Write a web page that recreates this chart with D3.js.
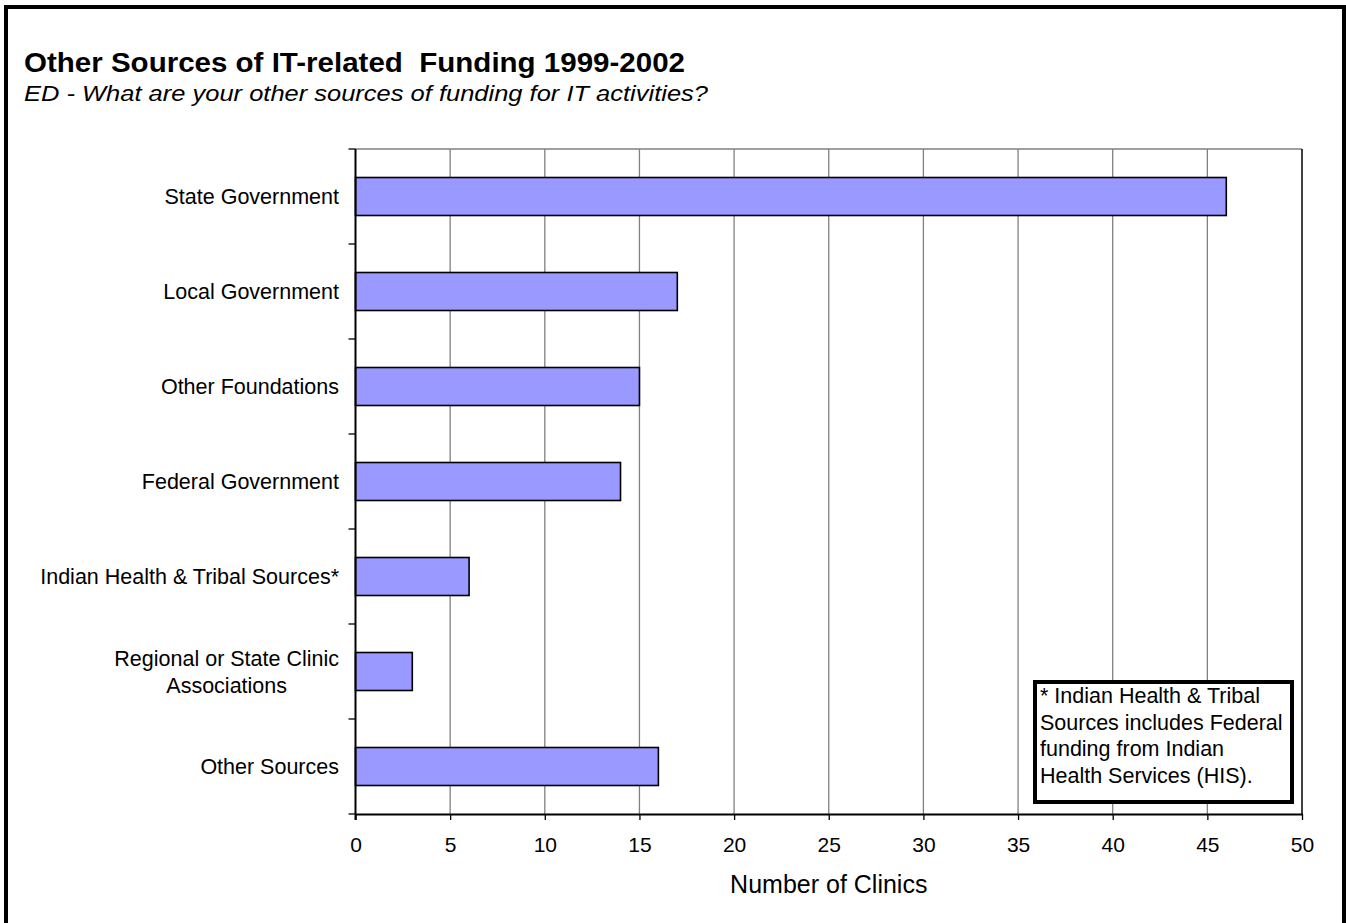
<!DOCTYPE html>
<html>
<head>
<meta charset="utf-8">
<script src="https://cdn.jsdelivr.net/npm/d3@7"></script>
<style>
  html, body { margin: 0; padding: 0; background: #fff; }
  svg { display: block; font-family: "Liberation Sans", Arial, sans-serif; }
  .pre { white-space: pre; }
</style>
</head>
<body>
<svg id="chart" width="1346" height="923"></svg>
<script>
// Funding sources (top to bottom) and number of clinics reporting each
const categories = [
  ["State Government"],
  ["Local Government"],
  ["Other Foundations"],
  ["Federal Government"],
  ["Indian Health & Tribal Sources*"],
  ["Regional or State Clinic", "Associations"],
  ["Other Sources"]
];
const clinics = [46, 17, 15, 14, 6, 3, 16];
const xTicks = [0, 5, 10, 15, 20, 25, 30, 35, 40, 45, 50];
const noteLines = [
  "* Indian Health & Tribal",
  "Sources includes Federal",
  "funding from Indian",
  "Health Services (HIS)."
];

const svg = d3.select("#chart");

// Outer frame
svg.append("rect")
  .attr("x", 6).attr("y", 7).attr("width", 1338).attr("height", 930)
  .attr("fill", "none").attr("stroke", "#000").attr("stroke-width", 4);

// Titles
svg.append("text")
  .attr("class", "pre")
  .attr("x", 24).attr("y", 72)
  .attr("font-size", 27).attr("font-weight", "bold")
  .attr("textLength", 661).attr("lengthAdjust", "spacingAndGlyphs")
  .text("Other Sources of IT-related  Funding 1999-2002");
svg.append("text")
  .attr("x", 24).attr("y", 101)
  .attr("font-size", 22).attr("font-style", "italic")
  .attr("textLength", 684).attr("lengthAdjust", "spacingAndGlyphs")
  .text("ED - What are your other sources of funding for IT activities?");

// Plot geometry
const plot = { left: 355.5, top: 149, right: 1302, bottom: 814 };

const x = d3.scaleLinear().domain([0, 50]).range([plot.left, plot.right]);
const y = d3.scaleBand()
  .domain(d3.range(categories.length))
  .range([plot.top, plot.bottom])
  .paddingInner(0.6).paddingOuter(0.3);
const band = d3.scaleBand()
  .domain(d3.range(categories.length))
  .range([plot.top, plot.bottom]);

// Vertical gridlines
svg.append("g")
  .selectAll("line")
  .data(xTicks.filter(t => t > 0 && t < 50))
  .join("line")
  .attr("x1", d => x(d)).attr("x2", d => x(d))
  .attr("y1", plot.top).attr("y2", plot.bottom)
  .attr("stroke", "#808080").attr("stroke-width", 1.3);

// Plot area border (top and right)
svg.append("line")
  .attr("x1", plot.left).attr("x2", plot.right)
  .attr("y1", plot.top).attr("y2", plot.top)
  .attr("stroke", "#808080").attr("stroke-width", 1.5);
svg.append("line")
  .attr("x1", plot.right).attr("x2", plot.right)
  .attr("y1", plot.top).attr("y2", plot.bottom)
  .attr("stroke", "#000").attr("stroke-width", 1.5);

// Bars
svg.append("g")
  .selectAll("rect")
  .data(clinics)
  .join("rect")
  .attr("x", x(0))
  .attr("y", (d, i) => y(i))
  .attr("width", d => x(d) - x(0))
  .attr("height", y.bandwidth())
  .attr("fill", "#9999ff")
  .attr("stroke", "#000").attr("stroke-width", 1.6);

// X axis
const xAxis = d3.axisBottom(x).tickValues(xTicks).tickSize(6).tickPadding(17).tickSizeOuter(0);
const gx = svg.append("g")
  .attr("transform", `translate(0,${plot.bottom})`)
  .call(xAxis);
gx.select(".domain").attr("stroke", "#000").attr("stroke-width", 2);
gx.selectAll(".tick line").attr("stroke", "#000").attr("stroke-width", 1.3);
gx.selectAll(".tick text")
  .attr("font-size", 21).attr("fill", "#000")
  .attr("font-family", "Liberation Sans, Arial, sans-serif");

// Y axis line and ticks at band boundaries
svg.append("line")
  .attr("x1", plot.left).attr("x2", plot.left)
  .attr("y1", plot.top).attr("y2", plot.bottom + 6)
  .attr("stroke", "#000").attr("stroke-width", 2);
svg.append("g")
  .selectAll("line")
  .data(d3.range(categories.length + 1))
  .join("line")
  .attr("x1", plot.left - 7).attr("x2", plot.left)
  .attr("y1", i => plot.top + i * band.step())
  .attr("y2", i => plot.top + i * band.step())
  .attr("stroke", "#000").attr("stroke-width", 1.3);

// Category labels: single lines right-aligned; wrapped lines centred as a block
const labelRight = 339;
const labels = svg.append("g").attr("font-size", 21.5);
categories.forEach((lines, i) => {
  const cy = band(i) + band.bandwidth() / 2;
  const lh = 27;
  const g = labels.append("g");
  const texts = lines.map((t, k) =>
    g.append("text")
      .attr("y", cy + (k - (lines.length - 1) / 2) * lh)
      .attr("dy", "0.35em")
      .text(t));
  if (lines.length === 1) {
    texts[0].attr("x", labelRight).attr("text-anchor", "end");
  } else {
    const w = d3.max(texts, t => t.node().getComputedTextLength());
    texts.forEach(t => t.attr("x", labelRight - w / 2).attr("text-anchor", "middle"));
  }
});

// Axis title
svg.append("text")
  .attr("x", (plot.left + plot.right) / 2).attr("y", 893)
  .attr("text-anchor", "middle").attr("font-size", 25)
  .text("Number of Clinics");

// Footnote box
const note = svg.append("g");
note.append("rect")
  .attr("x", 1035).attr("y", 682).attr("width", 257).attr("height", 120)
  .attr("fill", "#fff").attr("stroke", "#000").attr("stroke-width", 4);
note.selectAll("text")
  .data(noteLines)
  .join("text")
  .attr("x", 1040)
  .attr("y", (d, i) => 703 + i * 26.7)
  .attr("font-size", 21.5)
  .text(d => d);
</script>
</body>
</html>
